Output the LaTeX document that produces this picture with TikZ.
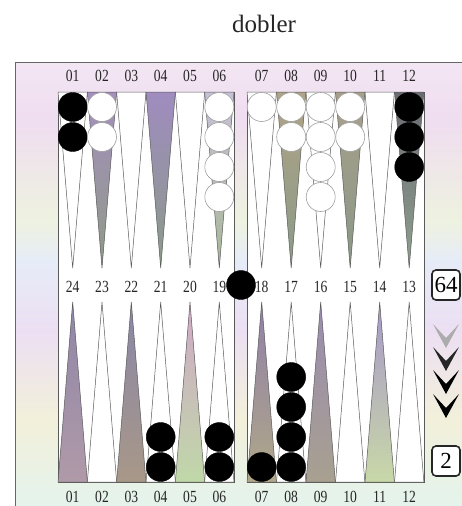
\documentclass[tikz,border=0pt]{standalone}
\usepackage{fontspec}
\setmainfont{Liberation Serif}
\usepackage{graphicx}
\newcommand\sqz[1]{\scalebox{0.8}[1]{#1}}
\definecolor{bgA}{HTML}{F3E6F3}
\definecolor{bgB}{HTML}{EFDDF0}
\definecolor{bgC}{HTML}{EEF2E0}
\definecolor{bgD}{HTML}{E6ECF7}
\definecolor{bgE}{HTML}{ECDFF3}
\definecolor{bgF}{HTML}{F2F0DA}
\definecolor{bgG}{HTML}{E4F3EC}
\definecolor{tAa}{HTML}{A58FC0}\definecolor{tAb}{HTML}{8F9A86}
\definecolor{tBa}{HTML}{A08CC0}\definecolor{tBb}{HTML}{8A9A88}
\definecolor{tCa}{HTML}{C8C0D8}\definecolor{tCb}{HTML}{A8B898}
\definecolor{tDa}{HTML}{B0A486}\definecolor{tDb}{HTML}{8A9A88}
\definecolor{tEa}{HTML}{A8A08A}\definecolor{tEb}{HTML}{8A9888}
\definecolor{tFa}{HTML}{6A6A72}\definecolor{tFb}{HTML}{90A090}
\definecolor{bAa}{HTML}{8F86A8}\definecolor{bAb}{HTML}{B09AA8}
\definecolor{bBa}{HTML}{8A86A8}\definecolor{bBb}{HTML}{A89888}
\definecolor{bCa}{HTML}{D0A8C8}\definecolor{bCb}{HTML}{C0D8A8}
\definecolor{bDa}{HTML}{9080A8}\definecolor{bDb}{HTML}{B0A888}
\definecolor{bEa}{HTML}{9A8CB0}\definecolor{bEb}{HTML}{A8A090}
\definecolor{bFa}{HTML}{A898C8}\definecolor{bFb}{HTML}{C8D8A8}
\begin{document}
\begin{tikzpicture}[x=1pt,y=-1pt,
  lbl/.style={font=\fontsize{17}{17}\selectfont, text=black!85, inner sep=0pt},
  blk/.style={circle, fill=black, draw=black, minimum size=29pt, inner sep=0pt},
  wht/.style={circle, fill=white, draw=gray!75, line width=0.6pt, minimum size=29pt, inner sep=0pt},
  tri/.style={draw=gray!70!black, line width=0.5pt},
  board/.style={fill=white, draw=gray!70!black, line width=0.6pt},
  cube/.style={draw=black!85, line width=1.6pt, rounded corners=4pt, fill=white,
    minimum width=28pt, minimum height=30pt, inner sep=0pt, font=\fontsize{23}{23}\selectfont}
  ]
\useasboundingbox (0,0) rectangle (462,506);
\fill[white] (0,0) rectangle (462,506);
% pastel background
\shade[top color=bgA, bottom color=bgB] (15,62) rectangle (462,121);
\shade[top color=bgB, bottom color=bgC] (15,120) rectangle (462,221);
\shade[top color=bgC, bottom color=bgD] (15,220) rectangle (462,261);
\shade[top color=bgD, bottom color=bgE] (15,260) rectangle (462,331);
\shade[top color=bgE, bottom color=bgF] (15,330) rectangle (462,421);
\shade[top color=bgF, bottom color=bgG] (15,420) rectangle (462,506);
\draw[gray!80!black, line width=0.8pt] (15,506) -- (15,62) -- (462,62);
% title
\node[font=\fontsize{25}{25}\selectfont, text=black!85] (title) at (264,24) {dobler};
% boards
\filldraw[board] (58,92) rectangle (234,482);
\filldraw[board] (247,92) rectangle (424,482);
% top white triangles
\foreach \xc in {72.7,131.3,190.0,261.7,320.7,379.7}
  \filldraw[tri, fill=white] (\xc-14.67,92) -- (\xc+14.67,92) -- (\xc,268) -- cycle;
% top shaded triangles
\foreach \xc/\ca/\cb in {102.0/tAa/tAb,160.7/tBa/tBb,219.3/tCa/tCb,291.2/tDa/tDb,350.2/tEa/tEb,409.2/tFa/tFb}
  \shadedraw[tri, top color=\ca, bottom color=\cb] (\xc-14.67,92) -- (\xc+14.67,92) -- (\xc,268) -- cycle;
% bottom white triangles
\foreach \xc in {102.0,160.7,219.3,291.2,350.2,409.2}
  \filldraw[tri, fill=white] (\xc-14.67,482) -- (\xc+14.67,482) -- (\xc,302) -- cycle;
% bottom shaded triangles
\foreach \xc/\ca/\cb in {72.7/bAa/bAb,131.3/bBa/bBb,190.0/bCa/bCb,261.7/bDa/bDb,320.7/bEa/bEb,379.7/bFa/bFb}
  \shadedraw[tri, top color=\ca, bottom color=\cb] (\xc-14.67,482) -- (\xc+14.67,482) -- (\xc,302) -- cycle;
% labels
\foreach \xc/\t in {72.7/01,102.0/02,131.3/03,160.7/04,190.0/05,219.3/06,261.7/07,291.2/08,320.7/09,350.2/10,379.7/11,409.2/12}
  {\node[lbl] (top\t) at (\xc,76) {\sqz{\t}};
   \node[lbl] (bot\t) at (\xc,497) {\sqz{\t}};}
\foreach \xc/\t in {72.7/24,102.0/23,131.3/22,160.7/21,190.0/20,219.3/19,261.7/18,291.2/17,320.7/16,350.2/15,379.7/14,409.2/13}
  \node[lbl] (mid\t) at (\xc,287) {\sqz{\t}};
% checkers top
\foreach \xc/\y/\nm in {72.7/107/a1,72.7/137/a2,409.2/107/l1,409.2/137/l2,409.2/167/l3}
  \node[blk] (\nm) at (\xc,\y) {};
\foreach \xc/\y/\nm in {102.0/107/b1,102.0/137/b2,
  219.3/107/f1,219.3/137/f2,219.3/167/f3,219.3/197/f4,
  261.7/107/g1,291.2/107/h1,291.2/137/h2,
  320.7/107/i1,320.7/137/i2,320.7/167/i3,320.7/197/i4,
  350.2/107/j1,350.2/137/j2}
  \node[wht] (\nm) at (\xc,\y) {};
% checkers bottom
\foreach \xc/\y/\nm in {160.7/467/d1,160.7/437/d2,219.3/467/q1,219.3/437/q2,
  261.7/467/r1,291.2/467/s1,291.2/437/s2,291.2/407/s3,291.2/377/s4}
  \node[blk] (\nm) at (\xc,\y) {};
% checker on the bar
\node[blk] (bar) at (241,285) {};
% cube and score
\node[cube] (cube) at (446,285) {64};
\node[cube] (score) at (446,461) {2};
% chevrons
\foreach \t/\c in {348/gray!65, 371/black!85, 394/black, 418/black}
  \fill[\c] (446,\t) -- (433,\t-24) -- (446,\t-10) -- (459,\t-24) -- cycle;
\end{tikzpicture}
\end{document}
